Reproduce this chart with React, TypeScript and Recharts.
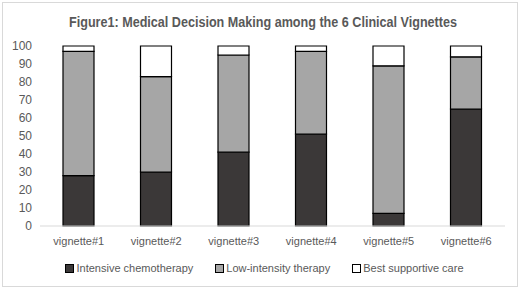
import { BarChart, Bar, XAxis, YAxis, Legend } from "recharts";

const vignettes = ["vignette#1", "vignette#2", "vignette#3", "vignette#4", "vignette#5", "vignette#6"];
const intensive = [28, 30, 41, 51, 7, 65];
const lowIntensity = [69, 53, 54, 46, 82, 29];
const supportive = [3, 17, 5, 3, 11, 6];
const yTicks = [0, 10, 20, 30, 40, 50, 60, 70, 80, 90, 100];

const series = [
  { key: "intensive", name: "Intensive chemotherapy", color: "#3b3838" },
  { key: "low", name: "Low-intensity therapy", color: "#a6a6a6" },
  { key: "bsc", name: "Best supportive care", color: "#ffffff" },
];

const data = vignettes.map((v, i) => ({
  name: v,
  intensive: intensive[i],
  low: lowIntensity[i],
  bsc: supportive[i],
}));

const font = "'Liberation Sans', Arial, sans-serif";
const textColor = "#595959";

function LegendContent() {
  return (
    <div style={{ display: "flex", justifyContent: "center", gap: 22, fontFamily: font, fontSize: 11, color: textColor, height: 16, alignItems: "center", paddingLeft: 24 }}>
      {series.map((s) => (
        <span key={s.key} style={{ display: "flex", alignItems: "center" }}>
          <span style={{ display: "inline-block", width: 7, height: 7, background: s.color, border: "1px solid #000", marginRight: 2 }} />
          {s.name}
        </span>
      ))}
    </div>
  );
}

export default function App() {
  return (
    <div style={{ position: "absolute", left: 0, top: 0, width: 520, height: 289, background: "#fff" }}>
      <div style={{ position: "absolute", left: 2, top: 2, width: 514, height: 283, border: "1px solid #d9d9d9" }} />
      <svg width={520} height={40} style={{ position: "absolute", left: 0, top: 0 }}>
        <text x={263} y={27} textAnchor="middle" textLength={388} lengthAdjust="spacingAndGlyphs" fontFamily={font} fontSize={14} fontWeight="bold" fill={textColor}>
          Figure1: Medical Decision Making among the 6 Clinical Vignettes
        </text>
      </svg>
      <div style={{ position: "absolute", left: 0, top: 0 }}>
        <BarChart width={520} height={289} data={data} margin={{ top: 46, right: 15, bottom: 13, left: 0 }} barSize={31}>
          <YAxis
            domain={[0, 100]}
            ticks={yTicks}
            width={40}
            axisLine={false}
            tickLine={false}
            interval={0}
            tick={{ fontSize: 12, fill: textColor, fontFamily: font }}
          />
          <XAxis
            dataKey="name"
            height={34}
            tickLine={false}
            tickMargin={5}
            axisLine={{ stroke: "#d9d9d9" }}
            tick={{ fontSize: 11, fill: textColor, fontFamily: font }}
          />
          <Legend verticalAlign="bottom" content={<LegendContent />} />
          {series.map((s) => (
            <Bar key={s.key} dataKey={s.key} name={s.name} stackId="a" fill={s.color} stroke="#000" strokeWidth={1.2} isAnimationActive={false} />
          ))}
        </BarChart>
      </div>
    </div>
  );
}
